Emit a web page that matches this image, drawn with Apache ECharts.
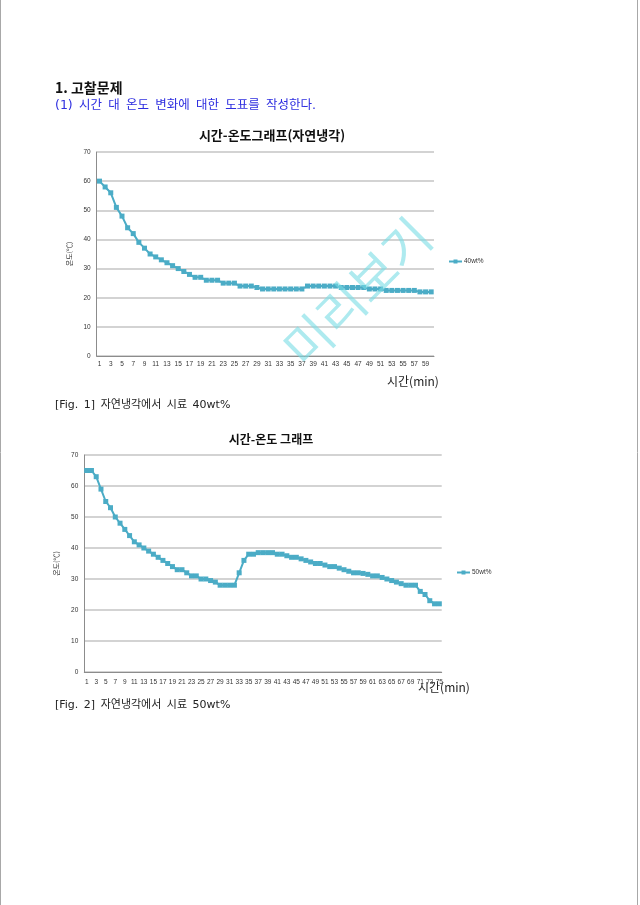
<!DOCTYPE html>
<html><head><meta charset="utf-8">
<script src="https://cdn.jsdelivr.net/npm/echarts@6/dist/echarts.min.js"></script>
<style>html,body{margin:0;padding:0;background:#fff}#c{width:640px;height:905px}</style>
</head><body><div id="c"></div><script>
const minutes1 = Array.from({length: 60}, (_, i) => String(i + 1));
const temp40 = [60,58,56,51,48,44,42,39,37,35,34,33,32,31,30,29,28,27,27,26,
  26,26,25,25,25,24,24,24,23.5,23,23,23,23,23,23,23,23,24,24,24,
  24,24,24,23.5,23.5,23.5,23.5,23.5,23,23,23,22.5,22.5,22.5,22.5,22.5,22.5,22,22,22];
const minutes2 = Array.from({length: 75}, (_, i) => String(i + 1));
const temp50 = [65,65,63,59,55,53,50,48,46,44,42,41,40,39,38,37,36,35,34,33,
  33,32,31,31,30,30,29.5,29,28,28,28,28,32,36,38,38,38.5,38.5,38.5,38.5,
  38,38,37.5,37,37,36.5,36,35.5,35,35,34.5,34,34,33.5,33,32.5,32,32,31.8,31.5,
  31,31,30.5,30,29.5,29,28.5,28,28,28,26,25,23,22,22];
const yMin = 0, yMax = 70, yStep = 10;
const series1Name = '40wt%', series2Name = '50wt%';
const yName = '온도(℃)';
const xName = '시간(min)';

const KR = "'Noto Sans CJK KR', sans-serif";
const MIX = "'DejaVu Sans', 'Noto Sans CJK KR', sans-serif";
const LINE = '#4bacc6';
const SP = '\u2002';
const chart = echarts.init(document.getElementById('c'), null, {renderer: 'canvas'});

function xAx(i, data, margin) {
  return {gridIndex: i, type: 'category', data, boundaryGap: true,
    axisLine: {lineStyle: {color: '#8c8c8c', width: 1}},
    axisTick: {show: false},
    axisLabel: {interval: 1, fontSize: 6.5, color: '#333', margin, fontFamily: 'Liberation Sans'}};
}
function yAx(i, gap) {
  return {gridIndex: i, type: 'value', min: yMin, max: yMax, interval: yStep,
    name: yName, nameLocation: 'middle', nameRotate: 90, nameGap: gap,
    nameTextStyle: {fontSize: 7, color: '#333', fontFamily: KR},
    axisLine: {show: true, lineStyle: {color: '#8c8c8c', width: 1}},
    axisTick: {show: false},
    splitLine: {lineStyle: {color: '#c4c4c4', width: 1.5}},
    axisLabel: {fontSize: 6.5, color: '#333', margin: 6, fontFamily: 'Liberation Sans'}};
}
function ser(name, i, data) {
  return {name, type: 'line', xAxisIndex: i, yAxisIndex: i, data,
    symbol: 'rect', symbolSize: 5, showAllSymbol: true, color: LINE,
    lineStyle: {color: LINE, width: 2}, itemStyle: {color: LINE},
    animation: false};
}
const sp = s => s.split(' ').join(SP);

const option = {
  animation: false,
  grid: [
    {left: 96.7, top: 152, width: 337.3, height: 204},
    {left: 84.3, top: 455, width: 357.4, height: 217}
  ],
  xAxis: [xAx(0, minutes1, 5), xAx(1, minutes2, 7)],
  yAxis: [yAx(0, 19), yAx(1, 19)],
  legend: [
    {data: [series1Name], left: 443, top: 253, itemWidth: 13, itemHeight: 5, itemGap: 2,
      textStyle: {fontSize: 6.5, color: '#333', fontFamily: 'Liberation Sans', padding: [0,0,0,-3]}},
    {data: [series2Name], left: 451, top: 564, itemWidth: 13, itemHeight: 5, itemGap: 2,
      textStyle: {fontSize: 6.5, color: '#333', fontFamily: 'Liberation Sans', padding: [0,0,0,-3]}}
  ],
  series: [ser(series1Name, 0, temp40), ser(series2Name, 1, temp50)],
  graphic: [
    {type: 'line', shape: {x1: 0.5, y1: 0, x2: 0.5, y2: 905}, style: {stroke: '#a8a8a8', lineWidth: 1}, silent: true},
    {type: 'line', shape: {x1: 637.5, y1: 0, x2: 637.5, y2: 905}, style: {stroke: '#a8a8a8', lineWidth: 1}, silent: true},
    {type: 'text', style: {text: '1. 고찰문제', x: 55, y: 88, font: 'bold 14px ' + KR, fill: '#111', textVerticalAlign: 'middle'}},
    {type: 'text', style: {text: sp('(1) 시간 대 온도 변화에 대한 도표를 작성한다.'), x: 55, y: 106, font: '12.5px ' + MIX, fill: '#2e2ee0', textVerticalAlign: 'middle'}},
    {type: 'text', style: {text: '시간-온도그래프(자연냉각)', x: 272, y: 135, font: 'bold 13px ' + KR, fill: '#111', textAlign: 'center', textVerticalAlign: 'middle'}},
    {type: 'text', style: {text: xName, x: 387, y: 381, font: '12px ' + KR, fill: '#222', textVerticalAlign: 'middle'}},
    {type: 'text', style: {text: sp('[Fig. 1] 자연냉각에서 시료 40wt%'), x: 55, y: 405, font: '11px ' + MIX, fill: '#222', textVerticalAlign: 'middle'}},
    {type: 'text', style: {text: '시간-온도 그래프', x: 271, y: 439, font: 'bold 12px ' + KR, fill: '#111', textAlign: 'center', textVerticalAlign: 'middle'}},
    {type: 'text', style: {text: xName, x: 418, y: 687, font: '12px ' + KR, fill: '#222', textVerticalAlign: 'middle'}},
    {type: 'text', style: {text: sp('[Fig. 2] 자연냉각에서 시료 50wt%'), x: 55, y: 705, font: '11px ' + MIX, fill: '#222', textVerticalAlign: 'middle'}},
    {type: 'text', x: 357, y: 292, rotation: Math.PI / 4, z: 100,
      style: {text: '미리보기', x: 0, y: 0, font: '50px ' + KR, fill: 'rgba(120,220,228,0.6)', textAlign: 'center', textVerticalAlign: 'middle'}}
  ]
};
chart.setOption(option);
</script></body></html>
